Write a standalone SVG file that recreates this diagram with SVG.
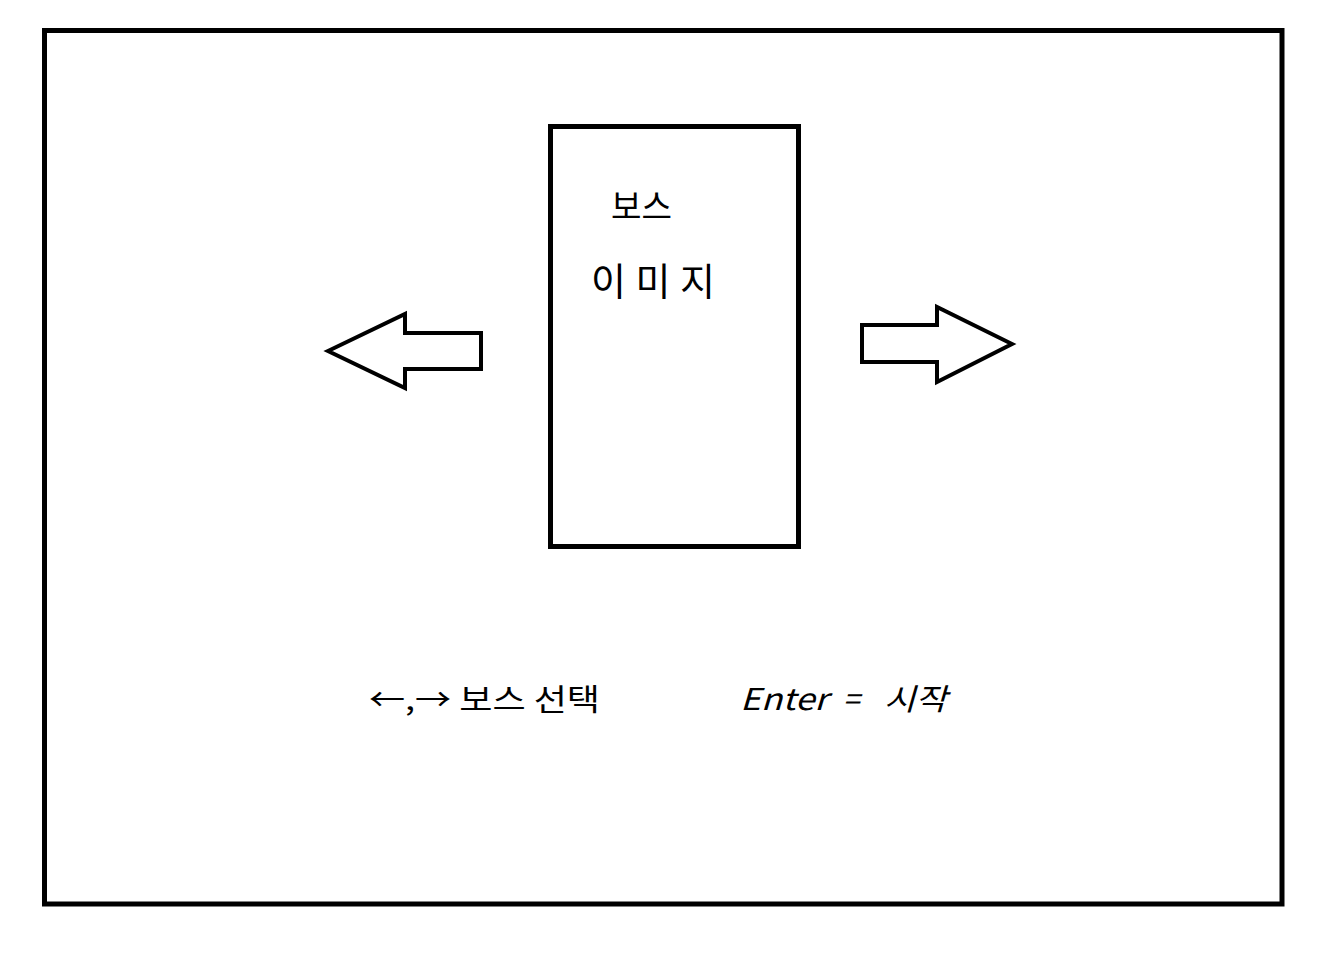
<svg xmlns="http://www.w3.org/2000/svg" width="1319" height="971" viewBox="0 0 1319 971">
<style>
.box{fill:#fff;stroke:#000;stroke-width:5}
.arrow{fill:#fff;stroke:#000;stroke-width:4;stroke-linejoin:miter}
.t{font-family:"Noto Sans CJK KR","Noto Sans",sans-serif;fill:#000}
</style>
<rect x="0" y="0" width="1319" height="971" fill="#fff"/>
<g id="frame"><rect class="box" x="44.5" y="30.5" width="1237.5" height="873.5"/></g>
<g id="boss-image">
<rect class="box" x="550.5" y="126.5" width="248" height="420"/>
<text class="t" x="611" y="219" font-size="34" textLength="61" lengthAdjust="spacingAndGlyphs">보스</text>
<text class="t" x="591" y="295" font-size="38" textLength="124" lengthAdjust="spacing">이미지</text>
</g>
<g id="connectors">
<polygon id="left-arrow" class="arrow" points="328,351 405,314 405,333 481,333 481,369 405,369 405,388"/>
<polygon id="right-arrow" class="arrow" points="1012,344 937,307 937,325 862,325 862,362 937,362 937,382"/>
</g>
<g id="labels">
<text class="t" x="369" y="710" font-size="30" textLength="231" lengthAdjust="spacingAndGlyphs">←,→ 보스 선택</text>
<text class="t" y="710" font-size="30" font-style="italic" xml:space="preserve"><tspan x="740" textLength="88" lengthAdjust="spacingAndGlyphs">Enter</tspan> <tspan x="843">=</tspan> <tspan x="884" textLength="63" lengthAdjust="spacingAndGlyphs">시작</tspan></text>
</g>
</svg>
